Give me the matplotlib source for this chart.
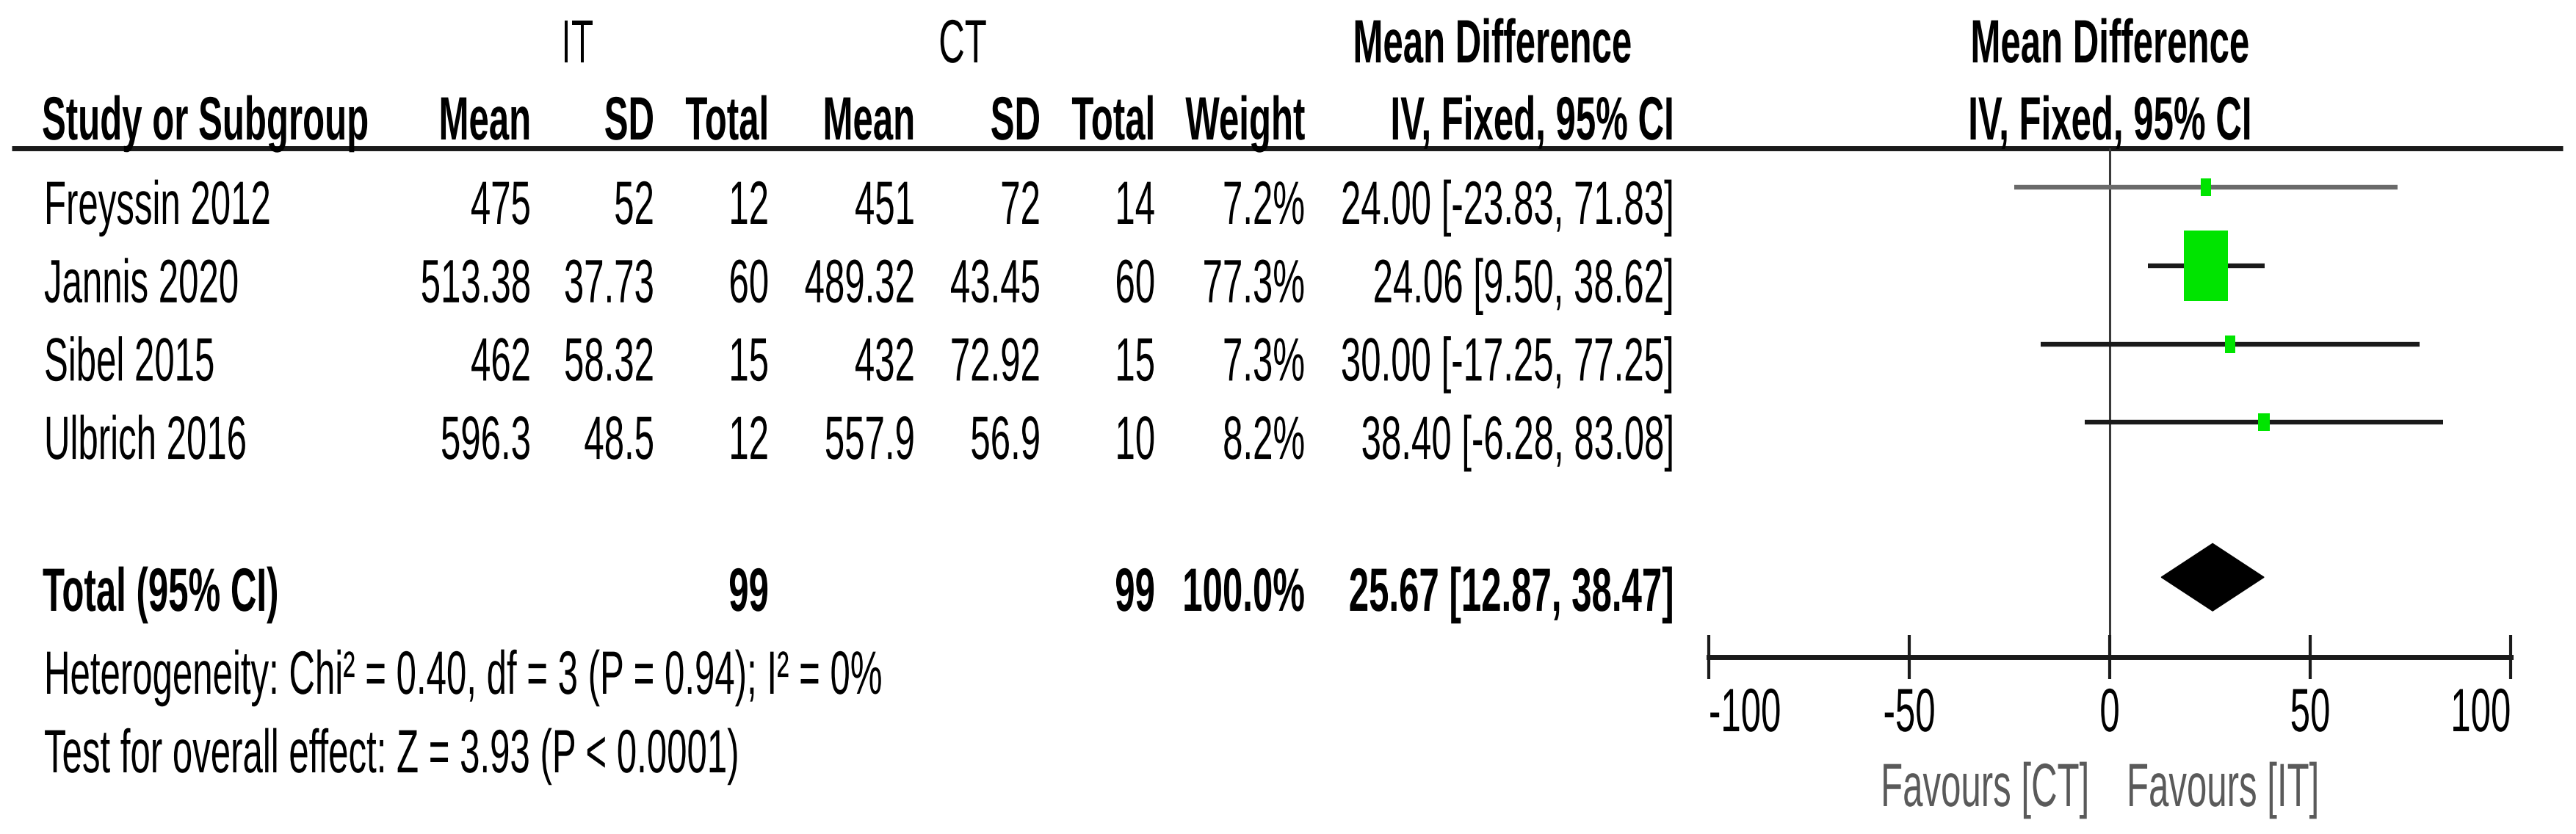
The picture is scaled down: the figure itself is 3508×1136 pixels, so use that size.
import matplotlib
matplotlib.use("Agg")
import matplotlib.pyplot as plt
from matplotlib.patheffects import AbstractPathEffect
from matplotlib.transforms import Affine2D
from matplotlib.patches import Polygon

# study data
studies = ["Freyssin 2012", "Jannis 2020", "Sibel 2015", "Ulbrich 2016"]
it_mean = [475, 513.38, 462, 596.3]
it_sd = [52, 37.73, 58.32, 48.5]
it_n = [12, 60, 15, 12]
ct_mean = [451, 489.32, 432, 557.9]
ct_sd = [72, 43.45, 72.92, 56.9]
ct_n = [14, 60, 15, 10]
weight = [7.2, 77.3, 7.3, 8.2]
md = [24.00, 24.06, 30.00, 38.40]
ci_lo = [-23.83, 9.50, -17.25, -6.28]
ci_hi = [71.83, 38.62, 77.25, 83.08]

# pooled result
tot_it = 99
tot_ct = 99
tot_weight = 100.0
tot_md = 25.67
tot_lo = 12.87
tot_hi = 38.47
chi2 = 0.40
df = 3
p_het = 0.94
i2 = 0
z = 3.93

ticks = [-100, -50, 0, 50, 100]

W, H = 3508, 1136
FS = 60
SX = 0.59  # the source picture is squeezed horizontally
FONT = ["Liberation Sans", "DejaVu Sans"]


class Tall(AbstractPathEffect):
    # text is set at a reduced size and stretched up from its baseline,
    # which gives the narrow letters of the reference
    def __init__(self, sy):
        super().__init__()
        self.sy = sy

    def draw_path(self, renderer, gc, tpath, affine, rgbFace=None):
        y0 = affine.transform([(0, 0)])[0, 1]
        t = affine + Affine2D().translate(0, -y0).scale(1, self.sy).translate(0, y0)
        renderer.draw_path(gc, tpath, t, rgbFace)


fig = plt.figure(figsize=(W / 100, H / 100), dpi=100)
fig.patch.set_facecolor("white")

# overlay axes in pixel units for the table part
tab = fig.add_axes([0, 0, 1, 1])
tab.set_xlim(0, W)
tab.set_ylim(H, 0)
tab.axis("off")


def put(x, y, s, ha="left", bold=False, color="black"):
    tab.text(x, y, s, ha=ha, va="baseline", fontsize=FS * SX, color=color,
             family=FONT, fontweight="bold" if bold else "normal",
             path_effects=[Tall(1 / SX)])


cols = [723, 891, 1047, 1246, 1417, 1573, 1777, 2279]
x_zero = 2873
row_gap = 106.7

# headers
put(786, 85, "IT", ha="center")
put(1311, 85, "CT", ha="center")
put(2032, 85, "Mean Difference", ha="center", bold=True)
put(x_zero, 85, "Mean Difference", ha="center", bold=True)

put(57, 190, "Study or Subgroup", bold=True)
for x, s in zip(cols, ["Mean", "SD", "Total", "Mean", "SD", "Total", "Weight", "IV, Fixed, 95% CI"]):
    put(x, 190, s, ha="right", bold=True)
put(x_zero, 190, "IV, Fixed, 95% CI", ha="center", bold=True)

tab.plot([16, 3490], [202, 202], color="#1a1a1a", lw=5, solid_capstyle="butt")

# study rows
for i, name in enumerate(studies):
    yb = 305 + row_gap * i
    put(60, yb, name)
    vals = [f"{it_mean[i]:g}", f"{it_sd[i]:g}", f"{it_n[i]}",
            f"{ct_mean[i]:g}", f"{ct_sd[i]:g}", f"{ct_n[i]}",
            f"{weight[i]:.1f}%",
            f"{md[i]:.2f} [{ci_lo[i]:.2f}, {ci_hi[i]:.2f}]"]
    for x, s in zip(cols, vals):
        put(x, yb, s, ha="right")

# total row
yt = 832
put(58, yt, "Total (95% CI)", bold=True)
put(cols[2], yt, f"{tot_it}", ha="right", bold=True)
put(cols[5], yt, f"{tot_ct}", ha="right", bold=True)
put(cols[6], yt, f"{tot_weight:.1f}%", ha="right", bold=True)
put(cols[7], yt, f"{tot_md:.2f} [{tot_lo:.2f}, {tot_hi:.2f}]", ha="right", bold=True)

put(60, 945, f"Heterogeneity: Chi² = {chi2:.2f}, df = {df} (P = {p_het:.2f}); I² = {i2}%")
put(60, 1052, f"Test for overall effect: Z = {z:.2f} (P < 0.0001)")

put(x_zero - 28, 1098, "Favours [CT]", ha="right", color="#5a5a5a")
put(x_zero + 23, 1098, "Favours [IT]", ha="left", color="#5a5a5a")

# forest panel
px_left, px_right, px_top, px_axis = 2327, 3419, 202, 895
ax = fig.add_axes([px_left / W, (H - px_axis) / H,
                   (px_right - px_left) / W, (px_axis - px_top) / H])
ax.patch.set_alpha(0)
ax.set_xlim(ticks[0], ticks[-1])
ax.set_ylim(6.0, -0.5)
for s in ["left", "right", "top"]:
    ax.spines[s].set_visible(False)
ax.spines["bottom"].set_linewidth(5)
ax.spines["bottom"].set_color("#1a1a1a")
ax.set_yticks([])
ax.set_xticks(ticks, labels=[f"{t}" for t in ticks])
ax.tick_params(axis="x", direction="inout", length=43, width=3,
               color="#1a1a1a", pad=26, labelsize=FS * SX)
for lbl, ha in zip(ax.get_xticklabels(), ["left", "center", "center", "center", "right"]):
    lbl.set_ha(ha)
    lbl.set_family(FONT)
    lbl.set_path_effects([Tall(1 / SX)])

ax.axvline(0, color="#3a3a3a", lw=2.2, zorder=1)

box_aspect = 0.615
box = [(-box_aspect / 2, -0.5), (box_aspect / 2, -0.5),
       (box_aspect / 2, 0.5), (-box_aspect / 2, 0.5)]
for i in range(len(studies)):
    line_col = "#6a6a6a" if i == 0 else "#1a1a1a"
    ax.plot([ci_lo[i], ci_hi[i]], [i, i], color=line_col, lw=4.6,
            solid_capstyle="butt", zorder=2)
    h_px = 96 * (weight[i] / max(weight)) ** 0.6
    ax.plot([md[i]], [i], marker=box, markersize=h_px * 0.72,
            color="#00e400", markeredgewidth=0, linestyle="none", zorder=3)

yd = 4.98
ax.add_patch(Polygon([(tot_lo, yd), (tot_md, yd - 0.43), (tot_hi, yd), (tot_md, yd + 0.43)],
                     closed=True, color="black", zorder=3))

fig.savefig("out.png", dpi=100, facecolor="white")
